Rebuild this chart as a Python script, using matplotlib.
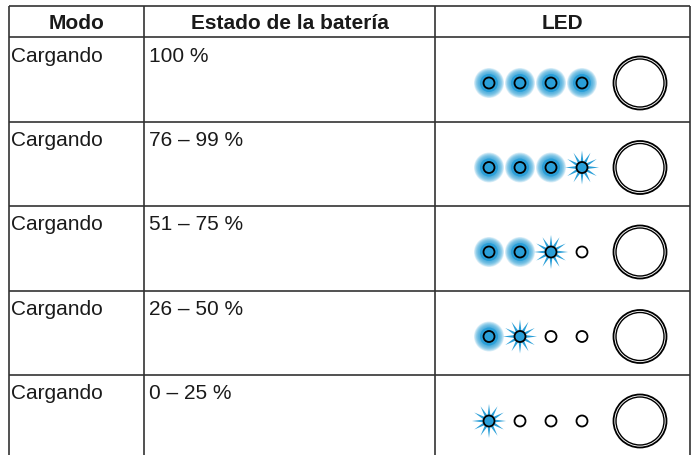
import numpy as np
import matplotlib.pyplot as plt
from matplotlib.patches import Circle, Polygon

plt.rcParams["font.family"] = ["Liberation Sans", "DejaVu Sans"]

headers = ["Modo", "Estado de la batería", "LED"]
modes = ["Cargando", "Cargando", "Cargando", "Cargando", "Cargando"]
levels = ["100 %", "76 – 99 %", "51 – 75 %", "26 – 50 %", "0 – 25 %"]
# state of the four small LEDs per row: on, blink, off
leds = [
    ["on", "on", "on", "on"],
    ["on", "on", "on", "blink"],
    ["on", "on", "blink", "off"],
    ["on", "blink", "off", "off"],
    ["blink", "off", "off", "off"],
]

BLUE = "#2a9fd8"
LINE = "#333333"

col_x = [9, 144, 435, 690]
head_top, head_bot = 7, 38
row_h = 84.5
n_rows = len(modes)

fig = plt.figure(figsize=(6.98, 4.56), dpi=100)
ax = fig.add_axes([0, 0, 1, 1])
ax.set_xlim(0, 698)
ax.set_ylim(456, 0)
ax.axis("off")

y_lines = [head_top, head_bot] + [head_bot + row_h * (i + 1) for i in range(n_rows)]
bottom = y_lines[-1]
for y in y_lines:
    ax.plot([col_x[0], col_x[-1]], [y, y], color=LINE, lw=1.2, solid_capstyle="butt")
for x in col_x:
    ax.plot([x, x], [head_top, bottom], color=LINE, lw=1.2, solid_capstyle="butt")

for i, h in enumerate(headers):
    ax.text((col_x[i] + col_x[i + 1]) / 2, (head_top + head_bot) / 2 + 1, h,
            ha="center", va="center", fontsize=15, fontweight="bold", color="#1a1a1a")


def glow(cx, cy):
    for r in np.linspace(15, 9, 10):
        ax.add_patch(Circle((cx, cy), r, color=BLUE, alpha=0.16, lw=0))
    ax.add_patch(Circle((cx, cy), 9, color=BLUE, lw=0))


def star(cx, cy):
    n = 12
    ang = np.linspace(0, 2 * np.pi, 2 * n, endpoint=False)
    rad = np.where(np.arange(2 * n) % 2 == 0, 17, 5.5)
    pts = np.column_stack([cx + rad * np.cos(ang), cy + rad * np.sin(ang)])
    ax.add_patch(Polygon(pts, closed=True, color=BLUE, lw=0))


for r in range(n_rows):
    top = head_bot + row_h * r
    ax.text(col_x[0] + 2, top + 18, modes[r], ha="left", va="center",
            fontsize=15, color="#1a1a1a")
    ax.text(col_x[1] + 5, top + 18, levels[r], ha="left", va="center",
            fontsize=15, color="#1a1a1a")
    cy = top + 46
    for k, state in enumerate(leds[r]):
        cx = 489 + 31 * k
        if state == "on":
            glow(cx, cy)
            ax.add_patch(Circle((cx, cy), 5.5, facecolor=BLUE, edgecolor="black", lw=1.3))
        elif state == "blink":
            star(cx, cy)
            ax.add_patch(Circle((cx, cy), 5.5, facecolor=BLUE, edgecolor="black", lw=1.3))
        else:
            ax.add_patch(Circle((cx, cy), 5.5, facecolor="white", edgecolor="black", lw=1.3))
    ax.add_patch(Circle((640, cy), 26.5, facecolor="white", edgecolor="black", lw=1.3))
    ax.add_patch(Circle((640, cy), 24, facecolor="none", edgecolor="black", lw=1.0))

fig.savefig("out.png", dpi=100)
